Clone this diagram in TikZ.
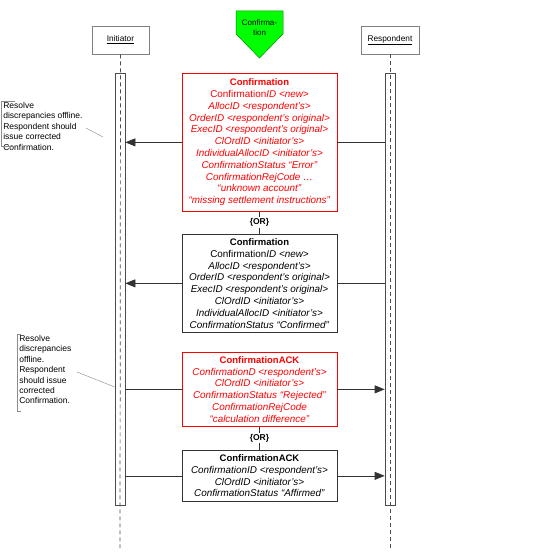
\documentclass[tikz,border=0pt]{standalone}
\usepackage{fontspec}
\setmainfont{Liberation Sans}
\usetikzlibrary{arrows.meta, positioning}

\tikzset{
	actor/.style={draw=black!50, fill=white, minimum height=28pt, inner sep=0pt, font=\fontsize{8.3}{10}\selectfont},
	bar/.style={draw=black!70, minimum width=10pt, minimum height=432pt, inner sep=0pt, anchor=north},
	life/.style={black!70, dash pattern=on 4pt off 3pt},
	msgbox/.style={fill=white, align=center, minimum width=155pt, inner sep=2pt, anchor=north, font=\fontsize{9.9}{11.8}\selectfont},
	errbox/.style={msgbox, draw=red, text=red},
	okbox/.style={msgbox, draw=black!80},
	msg/.style={black!80, -{Triangle[length=10pt, width=8pt]}},
	orlabel/.style={inner sep=1pt, font=\bfseries\fontsize{8.5}{10}\selectfont},
	note/.style={align=left, inner sep=0pt, anchor=north west, font=\fontsize{8.5}{10.4}\selectfont},
	notebrace/.style={black!45},
}
\newcommand{\msgtitle}[1]{{\fontsize{9.5}{11.8}\selectfont\textbf{#1}}}

\begin{document}
\begin{tikzpicture}[x=1pt, y=-1pt, line width=0.7pt]
	\useasboundingbox (0,0) rectangle (534,556);

	% lifelines
	\node[actor, minimum width=57pt] (I) at (120.5,40) {\underline{Initiator}};
	\node[actor, minimum width=58pt] (R) at (390,40) {\underline{Respondent}};
	\node[bar] (Ib) at (120,73) {};
	\node[bar] (Rb) at (390,73) {};
	\coordinate (Iend) at (120,548);
	\coordinate (Rend) at (390,548);
	\draw[life] (I.south) -- (Iend);
	\draw[life] (R.south) -- (Rend);

	% message flag
	\fill[green, draw=green!55!black, line width=0.5pt] (236,11) -- (283,11) -- (283,34) -- (259.5,58) -- (236,34) -- cycle;
	\node[align=center, inner sep=0pt, font=\fontsize{8}{10}\selectfont] (flag) at (259.5,28) {Confirma-\\tion};

	% messages
	\node[errbox, minimum height=138pt] (C1) at (259.5,73) {\msgtitle{Confirmation}\\
		Confirmation\textit{ID <new>}\\
		\textit{AllocID <respondent’s>}\\
		\textit{OrderID <respondent’s original>}\\
		\textit{ExecID <respondent’s original>}\\
		\textit{ClOrdID <initiator’s>}\\
		\textit{IndividualAllocID <initiator’s>}\\
		\textit{ConfirmationStatus “Error”}\\
		\textit{ConfirmationRejCode …}\\
		\textit{“unknown account”}\\
		\textit{“missing settlement instructions”}};
	\node[orlabel] (or1) at (259.5,222.5) {\{OR\}};
	\node[okbox, minimum height=98pt] (C2) at (259.5,234) {\msgtitle{Confirmation}\\
		Confirmation\textit{ID <new>}\\
		\textit{AllocID <respondent’s>}\\
		\textit{OrderID <respondent’s original>}\\
		\textit{ExecID <respondent’s original>}\\
		\textit{ClOrdID <initiator’s>}\\
		\textit{IndividualAllocID <initiator’s>}\\
		\textit{ConfirmationStatus “Confirmed”}};
	\node[errbox, minimum height=74pt] (A1) at (259.5,352) {\msgtitle{ConfirmationACK}\\
		\textit{ConfirmationD <respondent’s>}\\
		\textit{ClOrdID <initiator’s>}\\
		\textit{ConfirmationStatus “Rejected”}\\
		\textit{ConfirmationRejCode}\\
		\textit{“calculation difference”}};
	\node[orlabel] (or2) at (259.5,438) {\{OR\}};
	\node[okbox, minimum height=51pt] (A2) at (259.5,450) {\msgtitle{ConfirmationACK}\\
		\textit{ConfirmationID <respondent’s>}\\
		\textit{ClOrdID <initiator’s>}\\
		\textit{ConfirmationStatus “Affirmed”}};

	\draw[black!80] (C1.south) -- (or1.north) (or1.south) -- (C2.north);
	\draw[black!80] (A1.south) -- (or2.north) (or2.south) -- (A2.north);

	\draw[black!80] (Rb.west |- C1.east) -- (C1.east);
	\draw[msg] (C1.west) -- (Ib.east |- C1.west);
	\draw[black!80] (Rb.west |- C2.east) -- (C2.east);
	\draw[msg] (C2.west) -- (Ib.east |- C2.west);
	\draw[black!80] (Ib.east |- A1.west) -- (A1.west);
	\draw[msg] (A1.east) -- (Rb.west |- A1.east);
	\draw[black!80] (Ib.east |- A2.west) -- (A2.west);
	\draw[msg] (A2.east) -- (Rb.west |- A2.east);

	% notes
	\node[note] (N1) at (3,102) {Resolve\\discrepancies offline.\\Respondent should\\issue corrected\\Confirmation.};
	\draw[notebrace] (15,101) -- (1,101) -- (1,146) -- (15,146);
	\coordinate (N1a) at (86,128);
	\coordinate (N1b) at (103,137);
	\draw[black!40, line width=0.5pt] (N1a) -- (N1b);

	\node[note] (N2) at (19,335) {Resolve\\discrepancies\\offline.\\Respondent\\should issue\\corrected\\Confirmation.};
	\draw[notebrace] (21,334) -- (17,334) -- (17,411) -- (21,411);
	\coordinate (N2a) at (77,372);
	\draw[black!40, line width=0.5pt] (N2a) -- (Ib.west |- 0,387);
\end{tikzpicture}
\end{document}
